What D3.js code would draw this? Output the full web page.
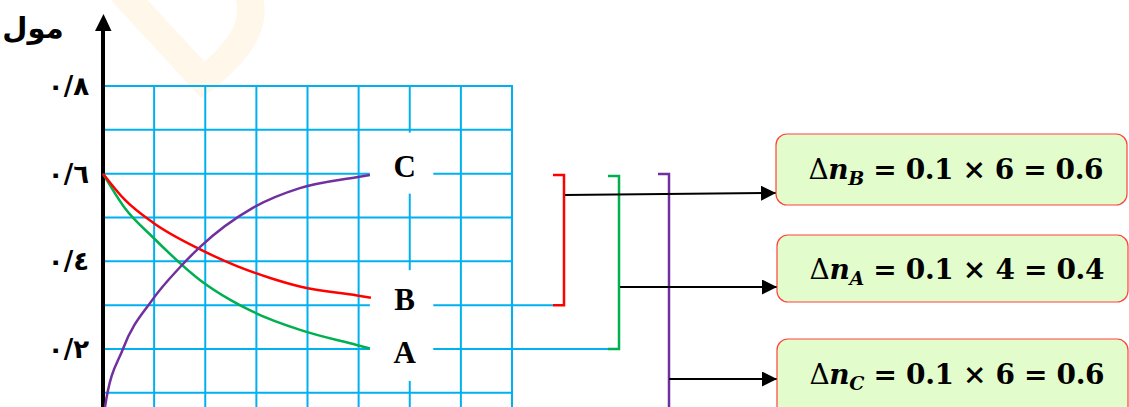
<!DOCTYPE html>
<html>
<head>
<meta charset="utf-8">
<script src="https://cdn.jsdelivr.net/npm/d3@7"></script>
<style>
  body { margin: 0; background: #fff; }
  svg { display: block; }
</style>
</head>
<body>
<div id="chart"></div>
<script>
// chart data
var gridX = [1, 2, 3, 4, 5, 6, 7, 8];
var gridY = [0.1, 0.2, 0.3, 0.4, 0.5, 0.6, 0.7, 0.8];
var yTickValues = [0.2, 0.4, 0.6, 0.8];
var yTickLabels = ['٠/٢', '٠/٤', '٠/٦', '٠/٨'];
var yAxisTitle = 'مول';

// curve points [x, mol]
var seriesA = [[0, 0.6], [0.43, 0.521], [0.965, 0.456], [1.9, 0.357], [2.49, 0.312], [2.93, 0.285],
               [3.87, 0.243], [4.96, 0.209], [5.22, 0.201]];
var seriesB = [[0, 0.6], [0.43, 0.54], [0.98, 0.488], [1.92, 0.426], [2.62, 0.389], [3.27, 0.362],
               [3.87, 0.342], [4.97, 0.322], [5.24, 0.317]];
var seriesC = [[0, 0.03], [0.04, 0.068], [0.39, 0.2], [0.965, 0.312], [1.51, 0.387], [1.9, 0.433],
               [2.93, 0.522], [3.85, 0.567], [4.96, 0.592], [5.22, 0.597]];

var seriesNames = ['A', 'B', 'C'];
var seriesEnd = [0.2, 0.3, 0.6];
var seriesColors = ['#00b050', '#ff0000', '#7030a0'];

var boxSub = ['B', 'A', 'C'];
var boxRest = [' = 0.1 × 6 = 0.6', ' = 0.1 × 4 = 0.4', ' = 0.1 × 6 = 0.6'];

// layout
const W = 1129, H = 407;
const GRID_COLOR = '#00b0f0';

var svg = d3.select('#chart').append('svg')
            .attr('width', W)
            .attr('height', H);

var x = d3.scaleLinear().domain([0, 8]).range([103, 512]);
var y = d3.scaleLinear().domain([0, 0.8]).range([436.6, 86]);

// faint watermark
svg.append('path')
   .attr('d', 'M118,-12 L203,80 Q268,30 245,-12')
   .attr('fill', 'none')
   .attr('stroke', '#fef7ea')
   .attr('stroke-width', 27);

// grid
var lineEnd = {0.3: 553, 0.2: 608};
svg.selectAll('line.hgrid').data(gridY)
   .enter()
   .append('line')
   .classed('hgrid', true)
   .attr('x1', x(0))
   .attr('x2', d => lineEnd[d] || x(8))
   .attr('y1', d => y(d))
   .attr('y2', d => y(d))
   .attr('stroke', GRID_COLOR)
   .attr('stroke-width', 2);

svg.selectAll('line.vgrid').data(gridX)
   .enter()
   .append('line')
   .classed('vgrid', true)
   .attr('x1', d => x(d))
   .attr('x2', d => x(d))
   .attr('y1', y(0.8) - 1)
   .attr('y2', H)
   .attr('stroke', GRID_COLOR)
   .attr('stroke-width', 2);

// white patches behind the letters
var patches = [[0.6, 0.6], [0.3, 0.2]];
svg.selectAll('rect.patch').data(patches)
   .enter()
   .append('rect')
   .attr('x', x(5.22))
   .attr('width', x(6.46) - x(5.22))
   .attr('y', d => y(d[0]) - (d[0] == 0.6 ? 41 : 35))
   .attr('height', d => y(d[1]) + (d[0] == 0.6 ? 20 : 32) - y(d[0]) + (d[0] == 0.6 ? 41 : 35))
   .attr('fill', '#fff');

// y axis with arrow
svg.append('line')
   .attr('x1', x(0)).attr('x2', x(0))
   .attr('y1', H).attr('y2', 26)
   .attr('stroke', '#000')
   .attr('stroke-width', 4);
svg.append('path')
   .attr('d', 'M' + (x(0) - 8) + ',31 L' + (x(0) + 0.5) + ',14 L' + (x(0) + 8.5) + ',31 Z')
   .attr('fill', '#000');

svg.selectAll('text.ytick').data(yTickValues)
   .enter()
   .append('text')
   .classed('ytick', true)
   .attr('x', 89)
   .attr('y', d => y(d) + 9)
   .attr('text-anchor', 'end')
   .attr('font-family', 'DejaVu Sans')
   .attr('font-weight', 'bold')
   .attr('font-size', 26)
   .text((d, i) => yTickLabels[i]);

svg.append('text')
   .attr('x', 33)
   .attr('y', 38)
   .attr('text-anchor', 'middle')
   .attr('font-family', 'DejaVu Sans')
   .attr('font-weight', 'bold')
   .attr('font-size', 29)
   .text(yAxisTitle);

// curves
var line = d3.line()
             .x(d => x(d[0]))
             .y(d => y(d[1]))
             .curve(d3.curveMonotoneX);

[seriesA, seriesB, seriesC].forEach(function (s, i) {
  svg.append('path')
     .datum(s)
     .attr('d', line)
     .attr('fill', 'none')
     .attr('stroke', seriesColors[i])
     .attr('stroke-width', 2.5);
});

// series letters
svg.selectAll('text.name').data(seriesNames)
   .enter()
   .append('text')
   .classed('name', true)
   .attr('x', x(5.9))
   .attr('y', (d, i) => y(seriesEnd[i]) + (i == 1 ? 5 : (i == 0 ? 14 : 3)))
   .attr('text-anchor', 'middle')
   .attr('font-family', 'Liberation Serif')
   .attr('font-weight', 'bold')
   .attr('font-size', 31)
   .text(d => d);

// brackets
var brackets = [
  {color: seriesColors[1], x: 564, top: 175, bottom: y(0.3), end: 553},
  {color: seriesColors[0], x: 619, top: 176, bottom: y(0.2), end: 608},
  {color: seriesColors[2], x: 669, top: 174, bottom: H + 5, end: 658}
];
svg.selectAll('path.bracket').data(brackets)
   .enter()
   .append('path')
   .classed('bracket', true)
   .attr('d', d => 'M' + d.end + ',' + d.top + ' L' + d.x + ',' + d.top + ' L' + d.x + ',' + d.bottom + ' L' + d.end + ',' + d.bottom)
   .attr('fill', 'none')
   .attr('stroke', d => d.color)
   .attr('stroke-width', 2.5);

// arrows
svg.append('defs').append('marker')
   .attr('id', 'arrow')
   .attr('viewBox', '0 0 10 10')
   .attr('refX', 10)
   .attr('refY', 5)
   .attr('markerUnits', 'userSpaceOnUse')
   .attr('markerWidth', 15)
   .attr('markerHeight', 15)
   .attr('orient', 'auto')
   .append('path')
   .attr('d', 'M0,0 L10,5 L0,10 Z')
   .attr('fill', '#000');

var arrows = [[565, 195, 776, 193], [620, 287, 777, 287], [669, 379, 777, 379]];
svg.selectAll('line.arrow').data(arrows)
   .enter()
   .append('line')
   .attr('x1', d => d[0]).attr('y1', d => d[1])
   .attr('x2', d => d[2]).attr('y2', d => d[3])
   .attr('stroke', '#000')
   .attr('stroke-width', 2)
   .attr('marker-end', 'url(#arrow)');

// result boxes
var boxes = [{x: 776, y: 134, h: 71, tx: 956, ty: 179},
             {x: 777, y: 235, h: 67, tx: 957, ty: 279},
             {x: 777, y: 339, h: 80, tx: 957, ty: 384}];
var box_g = svg.selectAll('g.box').data(boxes)
               .enter()
               .append('g')
               .classed('box', true);

box_g.append('rect')
     .attr('x', d => d.x)
     .attr('y', d => d.y)
     .attr('width', 351)
     .attr('height', d => d.h)
     .attr('rx', 11)
     .attr('fill', '#e3fccc')
     .attr('stroke', '#ff4040')
     .attr('stroke-width', 1.2);

var eq = box_g.append('text')
              .attr('x', d => d.tx)
              .attr('y', d => d.ty)
              .attr('text-anchor', 'middle')
              .attr('font-family', 'DejaVu Serif')
              .attr('font-size', 28)
              .attr('fill', '#000')
              .attr('textLength', 295)
              .attr('lengthAdjust', 'spacing');
eq.append('tspan').text('Δ');
eq.append('tspan').attr('font-weight', 'bold').attr('font-style', 'italic').text('n');
eq.append('tspan').attr('font-weight', 'bold').attr('font-style', 'italic')
  .attr('font-size', 19).attr('dy', 6).text((d, i) => boxSub[i]);
eq.append('tspan').attr('font-weight', 'bold').attr('dy', -6)
  .text((d, i) => boxRest[i]);
</script>
</body>
</html>
